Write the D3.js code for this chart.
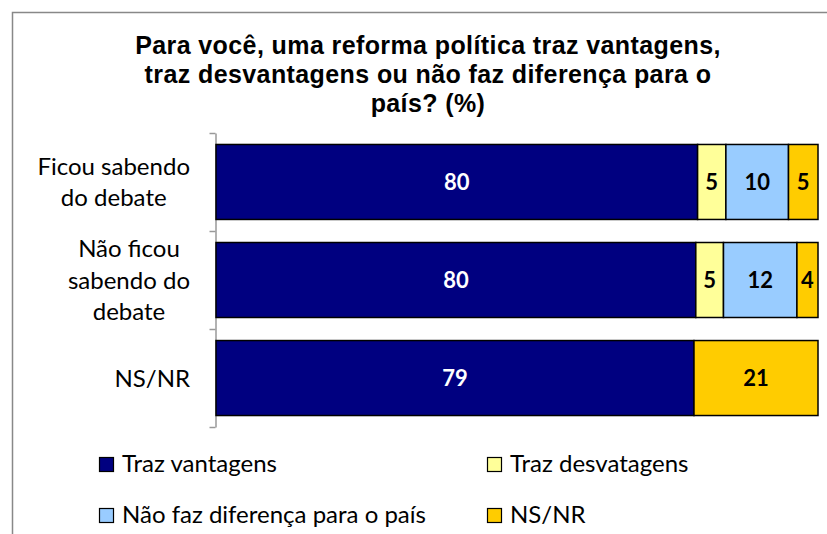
<!DOCTYPE html>
<html>
<meta charset='utf-8'>
<head>
<title>Reforma politica</title>
<script src='https://d3js.org/d3.v7.min.js'></script>
<style>
  body { margin: 0; background: #fff; }
  text { font-family: Lato, 'Noto Sans', sans-serif; }
</style>
</head>
<body>
<div id='my_dataviz'></div>
<script>

// data
var categories = [['Ficou sabendo', 'do debate'], ['Não ficou', 'sabendo do', 'debate'], ['NS/NR']]
var seriesNames = ['Traz vantagens', 'Traz desvatagens', 'Não faz diferença para o país', 'NS/NR']
var seriesColors = ['#000080', '#FFFF99', '#99CCFF', '#FFCC00']
var trazVantagens   = [80.0, 79.7, 79.4]
var trazDesvantagens = [4.7, 4.6, 0]
var naoFazDiferenca = [10.4, 12.2, 0]
var nsnr            = [4.9, 3.5, 20.6]
var titleLines = ['Para você, uma reforma política traz vantagens,', 'traz desvantagens ou não faz diferença para o', 'país? (%)']

var width = 827, height = 534

var svg = d3.select('#my_dataviz')
    .append('svg')
    .attr('width', width)
    .attr('height', height)

// chart border
svg.append('rect')
    .attr('x', 12.5).attr('y', 12.5)
    .attr('width', 830).attr('height', 540)
    .attr('fill', 'none')
    .attr('stroke', '#888')
    .attr('stroke-width', 1.5)

// title
svg.append('g').selectAll('text')
    .data(titleLines)
    .enter()
    .append('text')
    .attr('x', 428)
    .attr('y', function(d, i) { return 54 + i * 29 })
    .attr('text-anchor', 'middle')
    .style('font-family', "'Liberation Sans', Arial, sans-serif")
    .attr('font-weight', 'bold')
    .attr('font-size', 25)
    .attr('letter-spacing', 0.4)
    .text(function(d) { return d })

var rows = categories.map(function(c, i) {
    return {cat: i, v: [trazVantagens[i], trazDesvantagens[i], naoFazDiferenca[i], nsnr[i]]}
})

var x = d3.scaleLinear().domain([0, 100]).range([216, 818])
var y = d3.scaleBand()
    .domain(d3.range(categories.length))
    .range([133, 427])
    .paddingInner(0.235)
    .paddingOuter(0.117)

// axis with ticks at category boundaries
var yEdge = d3.scaleLinear().domain([0, categories.length]).range([133, 427])
svg.append('g')
    .attr('transform', 'translate(215.5,0)')
    .call(d3.axisLeft(yEdge).tickValues(d3.range(categories.length + 1)).tickFormat('').tickSize(6).tickSizeOuter(0))
    .call(function(g) {
        g.selectAll('line, path').attr('stroke', '#999').attr('stroke-width', 1.5)
    })

// stacked bars
var stack = d3.stack().keys([0, 1, 2, 3]).value(function(d, k) { return d.v[k] })
var stacked = stack(rows)

var layer = svg.append('g').selectAll('g')
    .data(stacked)
    .enter()
    .append('g')
    .attr('fill', function(d) { return seriesColors[d.key] })

layer.selectAll('rect')
    .data(function(d) { return d.filter(function(s) { return s[1] - s[0] > 0 }) })
    .enter()
    .append('rect')
    .attr('x', function(d) { return x(d[0]) })
    .attr('y', function(d) { return y(d.data.cat) })
    .attr('width', function(d) { return x(d[1]) - x(d[0]) })
    .attr('height', y.bandwidth())
    .attr('stroke', '#000')
    .attr('stroke-width', 1.5)

layer.selectAll('text')
    .data(function(d) { return d.filter(function(s) { return s[1] - s[0] > 0 }).map(function(s) { s.key = d.key; return s }) })
    .enter()
    .append('text')
    .attr('x', function(d) { return (x(d[0]) + x(d[1])) / 2 })
    .attr('y', function(d) { return y(d.data.cat) + y.bandwidth() / 2 + 8 })
    .attr('text-anchor', 'middle')
    .attr('font-weight', 'bold')
    .attr('font-size', 22)
    .attr('fill', function(d) { return d.key == 0 ? '#fff' : '#000' })
    .text(function(d) { return Math.round(d[1] - d[0]) })

// category labels: lines centred, block right-aligned
categories.forEach(function(lines, i) {
    var g = svg.append('g')
    var cy = y(i) + y.bandwidth() / 2 + 8.5
    var t = g.selectAll('text')
        .data(lines)
        .enter()
        .append('text')
        .attr('font-size', 24)
        .attr('fill', '#000')
        .attr('text-anchor', 'middle')
        .attr('y', function(d, j) { return cy + (j - (lines.length - 1) / 2) * 31.5 })
        .text(function(d) { return d })
    var maxW = d3.max(t.nodes(), function(n) { return n.getComputedTextLength() })
    t.attr('x', 190 - maxW / 2)
})

// legend
var legendPos = [[99, 457], [487, 457], [99, 508], [487, 508]]
var legend = svg.append('g').selectAll('g')
    .data(seriesNames)
    .enter()
    .append('g')
    .attr('transform', function(d, i) { return 'translate(' + legendPos[i][0] + ',' + legendPos[i][1] + ')' })
legend.append('rect')
    .attr('x', 0.5).attr('y', 0.5)
    .attr('width', 14).attr('height', 14)
    .attr('fill', function(d, i) { return seriesColors[i] })
    .attr('stroke', '#000')
    .attr('stroke-width', 1.2)
legend.append('text')
    .attr('x', 23)
    .attr('y', 15)
    .attr('font-size', 24)
    .text(function(d) { return d })

</script>
</body>
</html>
